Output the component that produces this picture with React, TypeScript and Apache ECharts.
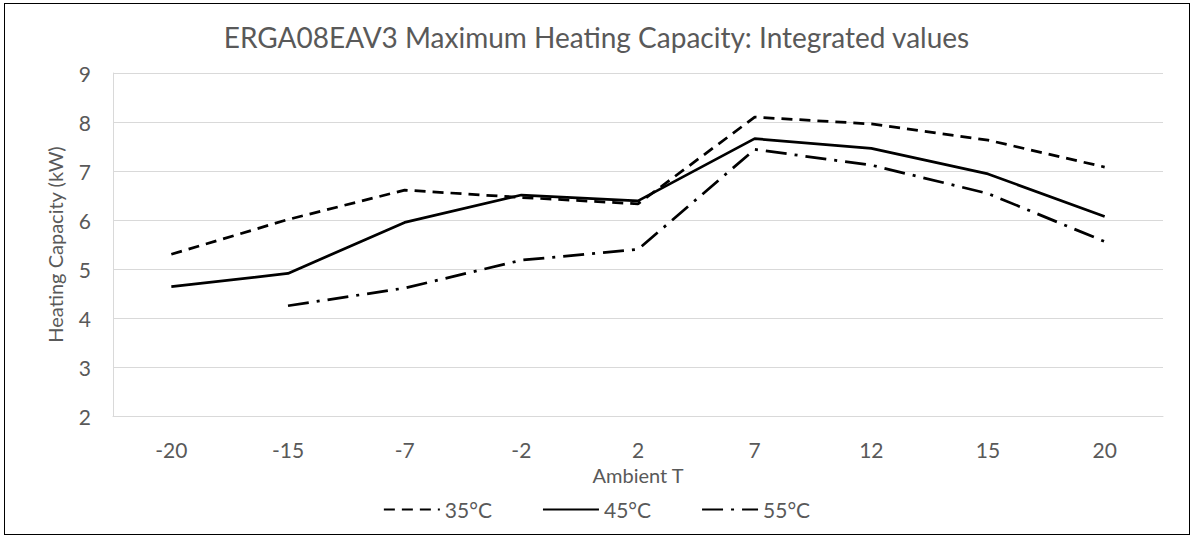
import React, { useEffect, useRef } from "react";
import * as echarts from "echarts";

const categories = ["-20", "-15", "-7", "-2", "2", "7", "12", "15", "20"];
const s35 = [5.3, 6.01, 6.61, 6.46, 6.33, 8.1, 7.96, 7.63, 7.08];
const s45 = [4.64, 4.91, 5.95, 6.51, 6.39, 7.66, 7.46, 6.94, 6.07];
const s55 = [null, 4.25, 4.61, 5.18, 5.4, 7.44, 7.12, 6.54, 5.56];
const yTicks = { min: 2, max: 9, interval: 1 };

const FONT = "Lato";
const GREY = "#595959";

export default function App() {
  const ref = useRef<HTMLDivElement>(null);
  useEffect(() => {
    const chart = echarts.init(ref.current!, null, { renderer: "svg" });
    const mk = (name: string, data: (number | null)[], type: any) => ({
      name,
      type: "line",
      data,
      symbol: "none",
      connectNulls: false,
      lineStyle: { color: "#000", width: 2.75, type, cap: "butt" },
      itemStyle: { color: "#000" },
    });
    chart.setOption({
      animation: false,
      backgroundColor: "#fff",
      title: {
        text: "ERGA08EAV3 Maximum Heating Capacity: Integrated values",
        left: "center",
        top: 18,
        textStyle: { fontFamily: FONT, fontSize: 28, fontWeight: "normal", color: GREY },
      },
      grid: { left: 113, right: 30, top: 73, bottom: 122 },
      xAxis: {
        type: "category",
        data: categories,
        boundaryGap: true,
        name: "Ambient T",
        nameLocation: "middle",
        nameGap: 30,
        nameTextStyle: { fontFamily: FONT, fontSize: 20, color: GREY },
        axisLine: { lineStyle: { color: "#d9d9d9", width: 1 } },
        axisTick: { show: false },
        axisLabel: { fontFamily: FONT, fontSize: 21, color: GREY, margin: 23 },
      },
      yAxis: {
        type: "value",
        min: yTicks.min,
        max: yTicks.max,
        interval: yTicks.interval,
        name: "Heating Capacity (kW)",
        nameLocation: "middle",
        nameGap: 48,
        nameTextStyle: { fontFamily: FONT, fontSize: 20, color: GREY },
        axisLine: { show: true, lineStyle: { color: "#d9d9d9", width: 1 } },
        axisTick: { show: false },
        splitLine: { lineStyle: { color: "#d9d9d9", width: 1 } },
        axisLabel: { fontFamily: FONT, fontSize: 21, color: GREY, margin: 22 },
      },
      legend: {
        top: 494,
        left: "center",
        itemWidth: 56,
        itemHeight: 12,
        itemGap: 50,
        itemStyle: { opacity: 0 },
        textStyle: { fontFamily: FONT, fontSize: 21, color: GREY },
        data: ["35°C", "45°C", "55°C"],
      },
      series: [
        mk("35°C", s35, [11, 7]),
        mk("45°C", s45, "solid"),
        mk("55°C", s55, [21, 8, 3, 8]),
      ],
    });
    return () => chart.dispose();
  }, []);
  return (
    <div style={{ position: "absolute", left: 0, top: 0, width: 1193, height: 538 }}>
      <div ref={ref} style={{ position: "absolute", left: 0, top: 0, width: 1193, height: 538 }} />
      <div
        style={{
          position: "absolute",
          left: 4,
          top: 3,
          width: 1186,
          height: 532,
          border: "1.5px solid #000",
          boxSizing: "border-box",
          pointerEvents: "none",
        }}
      />
    </div>
  );
}
